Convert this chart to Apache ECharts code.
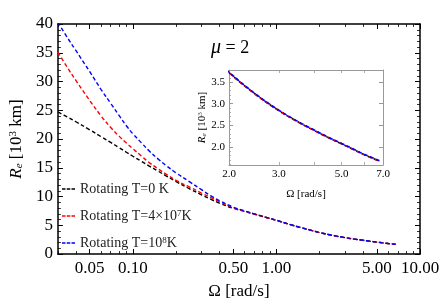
<!DOCTYPE html>
<html><head><meta charset="utf-8">
<script src="https://cdn.jsdelivr.net/npm/echarts@6/dist/echarts.min.js"></script>
<style>html,body{margin:0;padding:0;background:#fff}#c{width:443px;height:305px}</style>
</head><body><div id="c"></div>
<script>
const omega = [0.03, 0.035, 0.04, 0.05, 0.06, 0.07, 0.08, 0.09, 0.1, 0.115, 0.13, 0.15, 0.17, 0.2, 0.25, 0.3, 0.35, 0.4, 0.5, 0.6, 0.7, 0.85, 1.0, 1.25, 1.5, 1.75, 2.0, 2.5, 3.0, 3.5, 4.0, 4.5, 5.0, 5.5, 6.0, 6.8];
const reT0 =   [24.7, 23.8, 23.0, 21.6, 20.4, 19.4, 18.5, 17.7, 17.0, 16.1, 15.3, 14.4, 13.6, 12.6, 11.3, 10.3, 9.5, 8.85, 7.95, 7.4, 6.95, 6.35, 5.85, 5.1, 4.55, 4.1, 3.72, 3.2, 2.84, 2.58, 2.38, 2.21, 2.07, 1.94, 1.82, 1.67];
const reT4e7 = [35.1, 32.4, 30.2, 26.7, 24.0, 22.0, 20.5, 19.3, 18.3, 17.0, 15.9, 14.8, 13.9, 12.8, 11.6, 10.6, 9.8, 9.1, 8.05, 7.45, 6.95, 6.35, 5.85, 5.1, 4.55, 4.1, 3.72, 3.2, 2.84, 2.58, 2.38, 2.21, 2.07, 1.94, 1.82, 1.67];
const reT1e8 = [40.3, 37.6, 35.4, 31.7, 28.6, 26.2, 24.1, 22.3, 20.9, 19.3, 17.9, 16.5, 15.4, 14.1, 12.5, 11.2, 10.1, 9.3, 8.15, 7.5, 6.97, 6.36, 5.86, 5.11, 4.56, 4.11, 3.73, 3.21, 2.85, 2.59, 2.39, 2.22, 2.08, 1.95, 1.83, 1.68];
const seriesNames = ['Rotating T=0 K', 'Rotating T=4×10^7K', 'Rotating T=10^8K'];
const legendRich = ['Rotating T=0 K', 'Rotating T=4×10{s|7}K', 'Rotating T=10{s|8}K'];
const colors = ['#000000', '#ff0000', '#0000ff'];
const xMajor = [0.05, 0.1, 0.5, 1, 5, 10];
const xMinor = [0.03, 0.04, 0.06, 0.07, 0.08, 0.09, 0.2, 0.3, 0.4, 0.6, 0.7, 0.8, 0.9, 2, 3, 4, 6, 7, 8, 9];
const insetXLabels = [2, 3, 5, 7];
const insetXTicks = [2, 3, 4, 5, 6, 7];
const insetYLabels = [2.0, 2.5, 3.0, 3.5];
const insetYMinor = [1.6,1.7,1.8,1.9,2.1,2.2,2.3,2.4,2.6,2.7,2.8,2.9,3.1,3.2,3.3,3.4,3.6,3.7];
const muLabel = '{m|μ} = 2';

const serif = 'Liberation Serif';
const allVals = [reT0, reT4e7, reT1e8];
const pairs = vals => omega.map((o, i) => [o, vals[i]]);
const dashIcon = 'path://M0,0h3.5v1.3h-3.5z M4.75,0h3.5v1.3h-3.5z M9.5,0h3.5v1.3h-3.5z';

const nameRich = (fs) => ({
  i: {fontStyle: 'italic', fontSize: fs, fontFamily: serif, color: '#000'},
  sub: {fontStyle: 'italic', fontSize: fs * 0.65, fontFamily: serif, color: '#000', verticalAlign: 'bottom', padding: [fs*0.35, 0, 0, 0]},
  sup: {fontSize: fs * 0.65, fontFamily: serif, color: '#000', verticalAlign: 'top', padding: [0, 0, fs*0.35, 0]}
});

function xAx(grid, pos, min, max, opts) {
  return Object.assign({
    type: 'log', logBase: 10, gridIndex: grid, position: pos, min: min, max: max,
    splitLine: {show: false}, axisLine: {show: false}, axisLabel: {show: false},
    axisTick: {show: false}
  }, opts);
}

const mainLine = {show: true, lineStyle: {color: '#000', width: 1.5}};
const insetLine = {show: true, lineStyle: {color: '#999', width: 1}};

const xAxes = [
  xAx(0, 'bottom', 0.03, 10, {
    axisLine: mainLine,
    axisLabel: {show: true, customValues: xMajor, formatter: v => Number(v).toFixed(2), fontFamily: serif, fontSize: 17, color: '#000', margin: 6},
    axisTick: {show: true, inside: true, length: 5, customValues: xMajor, lineStyle: {color: '#000', width: 1}},
    name: 'Ω [rad/s]', nameLocation: 'middle', nameGap: 29,
    nameTextStyle: {fontFamily: serif, fontSize: 17, color: '#000'}
  }),
  xAx(0, 'bottom', 0.03, 10, {axisTick: {show: true, inside: true, length: 3, customValues: xMinor, lineStyle: {color: '#000', width: 0.8}}}),
  xAx(0, 'top', 0.03, 10, {axisLine: mainLine, axisTick: {show: true, inside: true, length: 5, customValues: xMajor, lineStyle: {color: '#000', width: 1}}}),
  xAx(0, 'top', 0.03, 10, {axisTick: {show: true, inside: true, length: 3, customValues: xMinor, lineStyle: {color: '#000', width: 0.8}}}),
  xAx(1, 'bottom', 2, 7, {
    axisLine: insetLine,
    axisLabel: {show: true, customValues: insetXLabels, formatter: v => Number(v).toFixed(1), fontFamily: serif, fontSize: 11, color: '#000', margin: 4},
    axisTick: {show: true, inside: true, length: 3, customValues: insetXTicks, lineStyle: {color: '#999', width: 0.8}},
    name: 'Ω [rad/s]', nameLocation: 'middle', nameGap: 24,
    nameTextStyle: {fontFamily: serif, fontSize: 11, color: '#000'}
  }),
  xAx(1, 'top', 2, 7, {axisLine: insetLine, axisTick: {show: true, inside: true, length: 3, customValues: insetXTicks, lineStyle: {color: '#999', width: 0.8}}})
];

const yAxes = [
  {type: 'value', gridIndex: 0, position: 'left', min: 0, max: 40, interval: 5,
   splitLine: {show: false}, axisLine: mainLine,
   axisTick: {show: true, inside: true, length: 5, lineStyle: {color: '#000'}},
   minorTick: {show: true, splitNumber: 5, length: 3, lineStyle: {color: '#000', width: 0.8}},
   axisLabel: {fontFamily: serif, fontSize: 17, color: '#000', margin: 5},
   name: '{i|R}{sub|e} [10{sup|3} km]', nameLocation: 'middle', nameGap: 31,
   nameTextStyle: {fontFamily: serif, fontSize: 17, color: '#000', rich: nameRich(17)}},
  {type: 'value', gridIndex: 0, position: 'right', min: 0, max: 40, interval: 5,
   splitLine: {show: false}, axisLine: mainLine, axisLabel: {show: false},
   axisTick: {show: true, inside: true, length: 5, lineStyle: {color: '#000'}},
   minorTick: {show: true, splitNumber: 5, length: 3, lineStyle: {color: '#000', width: 0.8}}},
  {type: 'value', gridIndex: 1, position: 'left', min: 1.58, max: 3.78,
   splitLine: {show: false}, axisLine: insetLine,
   axisTick: {show: true, inside: true, length: 4, customValues: insetYLabels, lineStyle: {color: '#999'}},
   axisLabel: {customValues: insetYLabels, formatter: v => Number(v).toFixed(1), fontFamily: serif, fontSize: 11, color: '#000', margin: 4},
   name: '{i|R}{sub|e} [10{sup|3} km]', nameLocation: 'middle', nameGap: 21,
   nameTextStyle: {fontFamily: serif, fontSize: 11, color: '#000', rich: nameRich(11)}},
  {type: 'value', gridIndex: 1, position: 'left', min: 1.58, max: 3.78,
   splitLine: {show: false}, axisLine: {show: false}, axisLabel: {show: false},
   axisTick: {show: true, inside: true, length: 2, customValues: insetYMinor, lineStyle: {color: '#999', width: 0.8}}},
  {type: 'value', gridIndex: 1, position: 'right', min: 1.58, max: 3.78,
   splitLine: {show: false}, axisLine: insetLine, axisLabel: {show: false},
   axisTick: {show: true, inside: true, length: 4, customValues: insetYLabels, lineStyle: {color: '#999'}}}
];

const series = [];
allVals.forEach((vals, k) => {
  series.push({
    name: seriesNames[k], type: 'line', xAxisIndex: 0, yAxisIndex: 0,
    data: pairs(vals), symbol: 'none', smooth: 0.4, clip: true, z: 3 + k,
    lineStyle: {color: colors[k], width: 1.4, type: [4, 2.5]}, itemStyle: {color: colors[k]}
  });
});
allVals.forEach((vals, k) => {
  series.push({
    name: seriesNames[k], type: 'line', xAxisIndex: 4, yAxisIndex: 2,
    data: pairs(vals), symbol: 'none', smooth: 0.4, clip: true, z: 3 + k,
    lineStyle: {color: colors[k], width: 1.6, type: [4, 2.5]}, itemStyle: {color: colors[k]}
  });
});

const chart = echarts.init(document.getElementById('c'), null, {renderer: 'canvas'});
chart.setOption({
  animation: false,
  backgroundColor: '#fff',
  title: {text: muLabel, left: 206, top: 33,
    textStyle: {fontFamily: serif, fontSize: 18, fontWeight: 'normal', color: '#000',
      rich: {m: {fontFamily: serif, fontSize: 20, fontStyle: 'italic', color: '#000'}}}},
  grid: [
    {left: 47, top: 24, width: 373, height: 230, show: false},
    {left: 229, top: 70, width: 154, height: 95, show: true, backgroundColor: '#fff', borderWidth: 0}
  ],
  legend: {
    data: seriesNames.map((n, k) => ({name: n, icon: dashIcon, itemStyle: {color: colors[k]}})),
    orient: 'vertical', left: 57, top: 177, itemWidth: 13, itemHeight: 1.3, itemGap: 13,
    formatter: name => legendRich[seriesNames.indexOf(name)],
    textStyle: {fontFamily: serif, fontSize: 14, lineHeight: 14, color: '#222', rich: {s: {fontFamily: serif, fontSize: 9, color: '#222', verticalAlign: 'top', padding: [0, 0, 7, 0]}}}
  },
  xAxis: xAxes,
  yAxis: yAxes,
  series: series
});
</script></body></html>
